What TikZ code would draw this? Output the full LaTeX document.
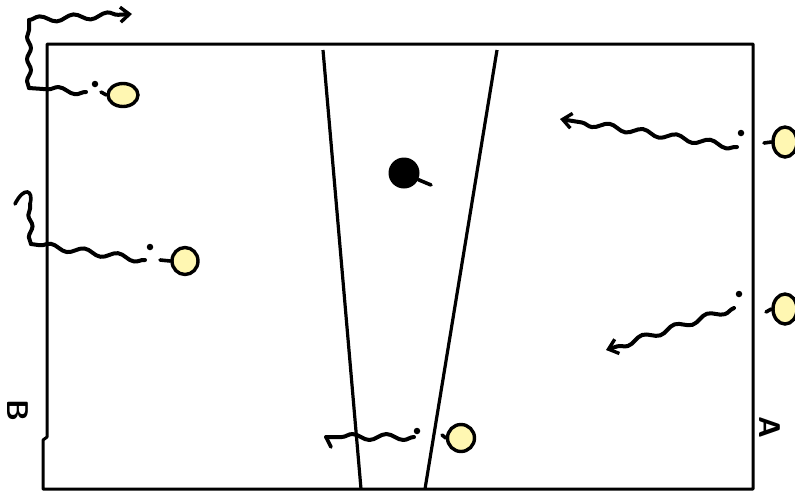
\documentclass[tikz,border=0pt]{standalone}
\usetikzlibrary{arrows.meta,decorations.pathmorphing,shapes.geometric}
\definecolor{ballyellow}{HTML}{FFF7B2}
\tikzset{
  field/.style={line width=3pt, line join=round},
  zone/.style={line width=3.2pt},
  ball/.style={draw, line width=3.4pt, fill=ballyellow, ellipse, inner sep=0pt},
  runline/.style={line width=4pt, line cap=round, line join=round,
    decorate, decoration={snake, amplitude=3pt, segment length=34pt, post length=5pt}},
  smallrun/.style={line width=4pt, line cap=round, line join=round,
    decorate, decoration={snake, amplitude=2pt, segment length=22pt}},
  runarrow/.style={runline, -{Straight Barb[length=9pt,width=15pt,line width=3.4pt]}},
  stub/.style={line width=3.6pt, line cap=round},
  dotmark/.style={circle, fill=black, inner sep=0pt, minimum size=6.5pt},
  lbl/.style={font=\sffamily\bfseries\fontsize{30}{30}\selectfont, rotate=-90}
}
\begin{document}
\begin{tikzpicture}[x=1pt,y=-1pt]
\useasboundingbox (0,0) rectangle (795,491);
% field
\draw[field] (43,489) -- (43,440) -- (47,437) -- (47,44) -- (753,44) -- (753,489) -- cycle;
% central zone
\coordinate (zl1) at (323,50); \coordinate (zl2) at (361,489);
\coordinate (zr1) at (497,50); \coordinate (zr2) at (425,489);
\draw[zone] (zl1) -- (zl2);
\draw[zone] (zr1) -- (zr2);
% labels
\node[lbl] (B) at (18,410) {B};
\node[lbl] (A) at (770,427) {A};
% central black ball
\node[circle, fill=black, minimum size=31pt, inner sep=0pt] (bb) at (404,173) {};
\coordinate (bbt) at (431,185);
\draw[line width=3.6pt, line cap=round] (bb.-25) -- (bbt);
% yellow balls
\node[ball, minimum width=30pt, minimum height=23pt] (y1) at (123,95) {};
\node[ball, minimum width=26pt, minimum height=27pt] (y2) at (185,261) {};
\node[ball, minimum width=24pt, minimum height=30pt] (y3) at (785,142) {};
\node[ball, minimum width=24pt, minimum height=30pt] (y4) at (785,309) {};
\node[ball, minimum width=27pt, minimum height=27pt] (y5) at (461,438) {};
% stubs
\coordinate (s1) at (101,92); \draw[stub] (s1) -- (y1.west);
\coordinate (s2) at (160,260); \draw[stub] (s2) -- (y2.west);
\coordinate (s3) at (764,143); \draw[stub] (s3) -- (y3.west);
\coordinate (s4) at (766,312); \draw[stub] (s4) -- (y4.west);
\coordinate (s5) at (442,435); \draw[stub] (s5) -- (y5.west);
% dots
\node[dotmark] (d1) at (95,84) {};
\node[dotmark] (d2) at (150,247) {};
\node[dotmark] (d3) at (741,133) {};
\node[dotmark] (d4) at (739,294) {};
\node[dotmark] (d5) at (417,431) {};
% runs
\coordinate (r1a) at (86,92); \coordinate (r1b) at (29,88); \coordinate (r1c) at (29,20); \coordinate (r1d) at (132,14);
\draw[runline] (r1a) -- (r1b);
\draw[smallrun] (r1b) -- (r1c);
\draw[runarrow] (r1c) -- (r1d);
\coordinate (r2a) at (145,260); \coordinate (r2b) at (31,244); \coordinate (r2c) at (30,204); \coordinate (r2e) at (15,204);
\draw[runline] (r2a) -- (r2b);
\draw[smallrun] (r2b) -- (r2c);
\draw[line width=3.6pt, line cap=round] (r2c) .. controls (34,190) and (24,186) .. (r2e);
\coordinate (r3a) at (737,147); \coordinate (r3b) at (560,119);
\draw[runarrow] (r3a) -- (r3b);
\coordinate (r4a) at (734,308); \coordinate (r4b) at (606,350);
\draw[runarrow] (r4a) -- (r4b);
\coordinate (r5a) at (414,437); \coordinate (r5b) at (326,437);
\draw[runline] (r5a) -- (r5b);
\coordinate (r5c) at (331,447);
\draw[line width=3.6pt, line cap=round] (r5b) -- (r5c);
\end{tikzpicture}
\end{document}
